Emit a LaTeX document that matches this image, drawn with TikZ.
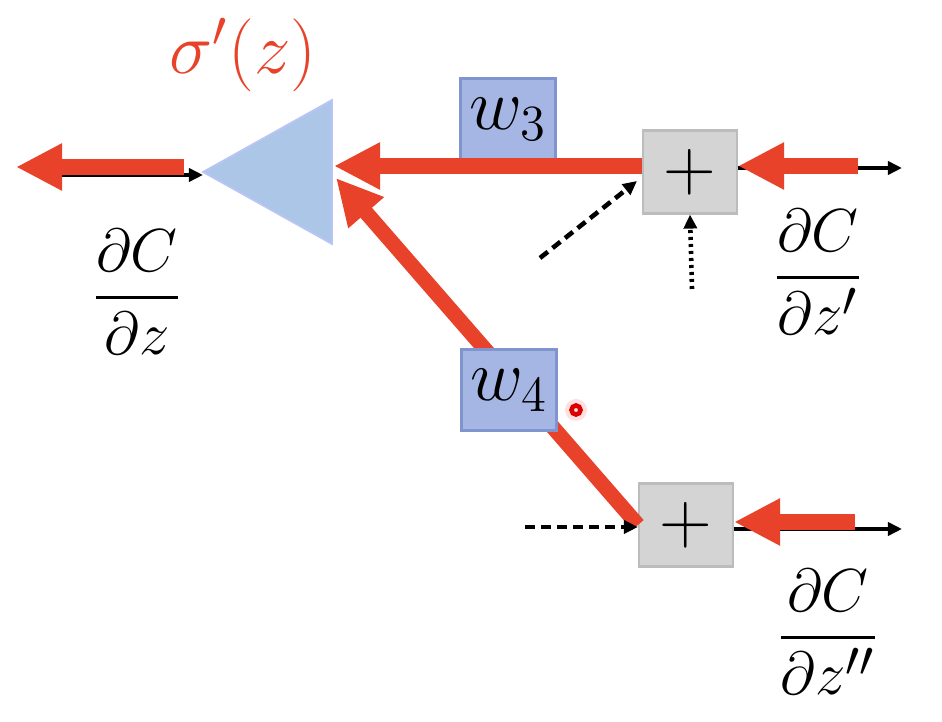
\documentclass[tikz,border=0pt]{standalone}
\usepackage{amsmath}
\usetikzlibrary{arrows.meta}

\definecolor{gradred}{RGB}{232,66,42}
\definecolor{wfill}{RGB}{166,182,228}
\definecolor{wborder}{RGB}{128,148,206}
\definecolor{sumfill}{RGB}{212,212,212}
\definecolor{sumborder}{RGB}{188,188,188}
\definecolor{trifill}{RGB}{172,198,232}

\tikzset{
    weightbox/.style={draw=wborder, fill=wfill, line width=0.6pt, minimum width=0.95cm, minimum height=0.81cm, inner sep=0pt, font=\fontsize{21}{25}\selectfont},
    sumbox/.style={draw=sumborder, fill=sumfill, line width=0.6pt, minimum width=0.94cm, minimum height=0.83cm, inner sep=0pt, font=\fontsize{20}{24}\selectfont},
    backarrow/.style={draw=gradred, line width=4.3pt, -{Triangle[length=0.46cm, width=0.44cm, fill=gradred]}},
    fwdarrow/.style={black, line width=1pt, -{Triangle[length=0.14cm, width=0.13cm]}},
    gradlabel/.style={font=\fontsize{19}{23}\selectfont},
}

\begin{document}
\begin{tikzpicture}[x=0.01cm, y=-0.01cm]
    \useasboundingbox (0,0) rectangle (942,722);

    % activation (triangle)
    \coordinate (triTip) at (203,172);
    \coordinate (triTop) at (332,100);
    \coordinate (triBot) at (332,244);
    \coordinate (triIn) at (334,166);
    \coordinate (triIn2) at (336,178);
    \filldraw[fill=trifill, draw=trifill!80!blue!60!white, line width=0.5pt] (triTip) -- (triTop) -- (triBot) -- cycle;
    \node[text=gradred, font=\fontsize{21}{25}\selectfont] (act) at (243,55) {$\sigma'(z)$};

    % output side
    \coordinate (outBlack) at (62,175);
    \coordinate (outStart) at (184,167);
    \coordinate (outEnd) at (16,167);
    \draw[fwdarrow] (outBlack) -- (triTip |- outBlack);
    \draw[backarrow] (outStart) -- (outEnd);
    \node[gradlabel] (dz) at (137,292) {$\dfrac{\partial C}{\partial z}$};

    % upper branch
    \node[sumbox] (plusA) at (690,172) {$+$};
    \node[weightbox] (wA) at (508,119) {$w_3$};
    \draw[backarrow] (plusA.west |- triIn) -- (triIn);
    \coordinate (inA) at (540,258);
    \coordinate (inAend) at (637,181);
    \coordinate (inB) at (692,289);
    \coordinate (gradA) at (858,166);
    \coordinate (fwdA) at (902,168);
    \draw[fwdarrow, dash pattern=on 0.1cm off 0.06cm, line width=1.3pt] (inA) -- (inAend);
    \draw[fwdarrow, dash pattern=on 0.03cm off 0.04cm, line width=1.3pt] (inB) -- (plusA.south);
    \draw[fwdarrow] (plusA.east |- fwdA) -- (fwdA);
    \draw[backarrow] (gradA) -- (plusA.east |- gradA);
    \node[gradlabel] (dzA) at (818,272) {$\dfrac{\partial C}{\partial z'}$};

    % lower branch
    \node[sumbox] (plusB) at (686,525) {$+$};
    \draw[backarrow] (plusB.west) -- (triIn2);
    \node[weightbox] (wB) at (509,390) {$w_4$};
    \coordinate (inC) at (525,527);
    \coordinate (gradB) at (855,522);
    \coordinate (fwdB) at (902,529);
    \draw[fwdarrow, dash pattern=on 0.1cm off 0.06cm, line width=1.3pt] (inC) -- (inC -| plusB.west);
    \draw[fwdarrow] (plusB.east |- fwdB) -- (fwdB);
    \draw[backarrow] (gradB) -- (plusB.east |- gradB);
    \node[gradlabel] (dzB) at (828,632) {$\dfrac{\partial C}{\partial z''}$};

    % pointer
    \fill[red!12] (576,410) circle (0.11cm);
    \draw[red!85!black, line width=1.3pt] (576,410) circle (0.045cm);
\end{tikzpicture}
\end{document}
